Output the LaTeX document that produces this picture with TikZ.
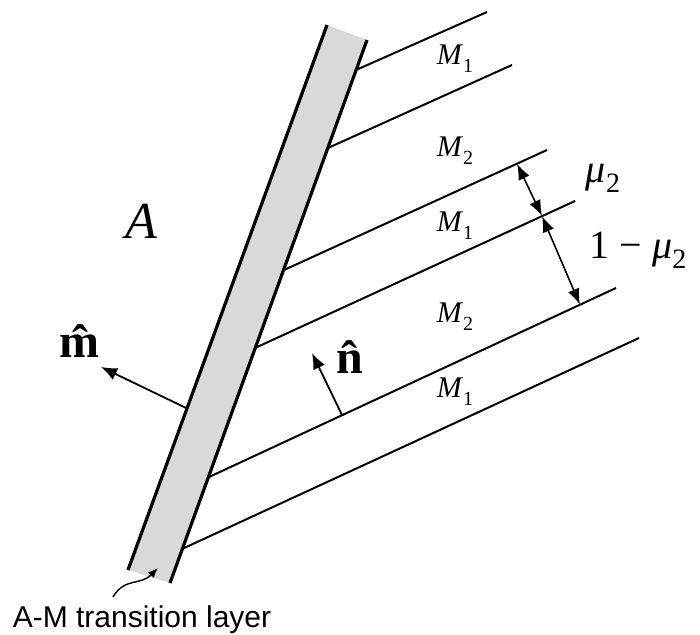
\documentclass[tikz,border=0pt]{standalone}
\usepackage{fontspec}
\setmainfont{Liberation Serif}
\newfontfamily\layersans{Liberation Sans}
\usetikzlibrary{arrows.meta,calc}

\newcommand{\phsub}[1]{\raisebox{-4pt}{\fontsize{10}{12}\selectfont #1}}
\newcommand{\musub}[1]{\raisebox{-5pt}{\fontsize{14}{16}\selectfont #1}}

\begin{document}
\begin{tikzpicture}[
    x=0.5pt, y=-0.5pt,
    edge/.style={line width=1.6pt},
    layer/.style={line width=1pt},
    vec/.style={-{Latex[length=8pt, width=6.5pt]}, line width=0.9pt},
    dim/.style={{Latex[length=8pt, width=6pt]}-{Latex[length=8pt, width=6pt]}, line width=0.8pt},
    phase/.style={font=\fontsize{15}{18}\selectfont, inner sep=0pt},
    frac/.style={font=\fontsize{20}{24}\selectfont, inner sep=0pt},
    normal/.style={font=\fontsize{24}{28}\selectfont\bfseries, inner sep=0pt},
]
    \useasboundingbox (0,0) rectangle (700,635);

    % transition layer
    \coordinate (tl) at (327,25);
    \coordinate (tr) at (367,40);
    \coordinate (br) at (170,583);
    \coordinate (bl) at (128,570);
    \fill[gray!30] (tl) -- (tr) -- (br) -- (bl) -- cycle;
    \draw[edge] (tl) -- (bl);
    \draw[edge] (tr) -- (br);

    % interfaces between M1 and M2
    \foreach \i/\xa/\ya/\xb/\yb in {1/356/70/487/12, 2/328/148/512/65, 3/284/270/547/150,
                                    4/255/348/575/201, 5/209/477/616/288, 6/182/549/639/338}{
        \coordinate (s\i) at (\xa,\ya);
        \coordinate (e\i) at (\xb,\yb);
        \draw[layer] (s\i) -- (e\i);
    }

    \node[phase] (M1a) at (455,59) {\textit{M}\phsub{1}};
    \node[phase] (M2a) at (455,151) {\textit{M}\phsub{2}};
    \node[phase] (M1b) at (455,226) {\textit{M}\phsub{1}};
    \node[phase] (M2b) at (455,317) {\textit{M}\phsub{2}};
    \node[phase] (M1c) at (455,392) {\textit{M}\phsub{1}};

    % volume fractions
    \coordinate (p3) at ($(s3)!0.886!(e3)$);
    \coordinate (p4) at ($(s4)!0.897!(e4)$);
    \coordinate (p5) at ($(s5)!0.9115!(e5)$);
    \draw[dim] (p3) -- (p4);
    \draw[dim] (p4) -- (p5);
    \node[frac] (mu) at (603,178) {\textit{μ}\musub{2}};
    \node[frac] (onemu) at (638,250) {1 − \textit{μ}\musub{2}};

    \node[font=\fontsize{26}{30}\selectfont\itshape, inner sep=0pt] (A) at (141,221) {A};

    % normals
    \coordinate (mfoot) at ($(tl)!0.7035!(bl)$);
    \coordinate (mtip) at (101,367);
    \draw[vec] (mfoot) -- (mtip);
    \node[normal] (mhat) at (79,341) {\^{m}};
    \coordinate (nfoot) at ($(s5)!0.327!(e5)$);
    \coordinate (ntip) at (312,353);
    \draw[vec] (nfoot) -- (ntip);
    \node[normal] (nhat) at (350,357) {\^{n}};

    \node[font=\layersans\fontsize{15}{18}\selectfont, anchor=base, inner sep=0pt] (tlabel) at (142,627.5) {A-M transition layer};
    \coordinate (tstart) at (113,597);
    \coordinate (ttip) at (158,568);
    \draw[-{Latex[length=5pt, width=4pt]}, line width=0.7pt] (tstart) .. controls (125,577) and (140,586) .. (ttip);
\end{tikzpicture}
\end{document}
